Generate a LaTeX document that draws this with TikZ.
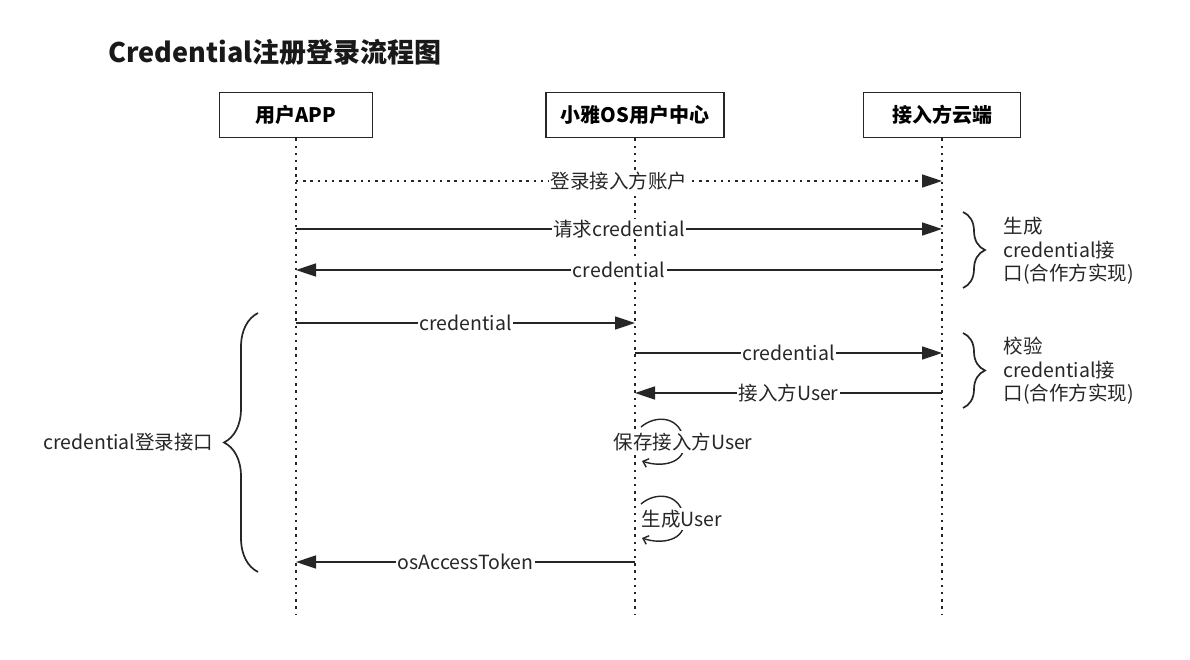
\documentclass[tikz,border=0pt]{standalone}
\usepackage{fontspec}
\setmainfont{Noto Sans CJK SC}
\usepackage{tikz}
\usetikzlibrary{arrows.meta, decorations.pathreplacing}

\begin{document}
\begin{tikzpicture}[
    x=1pt, y=-1pt,
    actor/.style={draw=black!85, line width=1.8pt, minimum height=45pt, inner sep=0pt, font=\bfseries\fontsize{20}{22}\selectfont},
    lifeline/.style={draw=black!85, line width=2.4pt, dash pattern=on 2.4pt off 4.8pt},
    msg/.style={draw=black!85, line width=1.7pt, -{Triangle[length=20pt, width=13pt]}},
    dotmsg/.style={msg, dash pattern=on 2.4pt off 4.8pt},
    lbl/.style={fill=white, inner sep=1.5pt, text=black!85, font=\fontsize{19.5}{22}\selectfont},
    selfmsg/.style={draw=black!85, line width=1.4pt, -{Straight Barb[length=5pt, width=9pt]}},
    bracket/.style={draw=black!85, line width=1.7pt, decorate, decoration={brace, amplitude=#1}},
    note/.style={text=black!85, align=left, font=\fontsize{19.5}{23.5}\selectfont},
]

% background / page size
\fill[white] (0,0) rectangle (1190,660);
\useasboundingbox (0,0) rectangle (1190,660);

% === TITLE ===
\node[font=\bfseries\fontsize{27}{31}\selectfont, anchor=west, text=black!90] (title) at (105,52) {Credential注册登录流程图};

% === PARTICIPANTS ===
\node[actor, minimum width=153pt] (app) at (296,115) {用户APP};
\node[actor, minimum width=178pt] (os) at (635,115) {小雅OS用户中心};
\node[actor, minimum width=157pt] (cloud) at (942,115) {接入方云端};

% Lifelines
\foreach \p in {app, os, cloud} {
    \coordinate (\p_end) at (\p |- 0,614);
    \draw[lifeline] (\p.south) -- (\p_end);
}

% Message anchors on the lifelines
\foreach \nm/\yy in {login/181, req/229, cred/270, send/323, check/353, user/393, token/562} {
    \coordinate (app_\nm) at (app |- 0,\yy);
    \coordinate (os_\nm) at (os |- 0,\yy);
    \coordinate (cloud_\nm) at (cloud |- 0,\yy);
}

% === MESSAGES ===
\draw[dotmsg] (app_login) -- node[lbl] {登录接入方账户} (cloud_login);
\draw[msg] (app_req) -- node[lbl] {请求credential} (cloud_req);
\draw[msg] (cloud_cred) -- node[lbl] {credential} (app_cred);
\draw[msg] (app_send) -- node[lbl] {credential} (os_send);
\draw[msg] (os_check) -- node[lbl] {credential} (cloud_check);
\draw[msg] (cloud_user) -- node[lbl] {接入方User} (os_user);
\draw[msg] (os_token) -- node[lbl] {osAccessToken} (app_token);

% Self messages
\coordinate (save_a) at (641,427);
\coordinate (save_b) at (642,461);
\draw[selfmsg] (save_a) .. controls (656,414) and (682,416) .. (684,443)
    .. controls (686,463) and (662,468) .. (save_b);
\node[lbl] (save_lbl) at (683,442) {保存接入方User};

\coordinate (gen_a) at (641,504);
\coordinate (gen_b) at (642,538);
\draw[selfmsg] (gen_a) .. controls (656,491) and (682,493) .. (684,520)
    .. controls (686,540) and (662,545) .. (gen_b);
\node[lbl] (gen_lbl) at (682,519) {生成User};

% === BRACES ===
\coordinate (make_top) at (963,212);
\coordinate (make_bot) at (963,288);
\draw[bracket=22pt] (make_top) -- (make_bot);
\node[note, anchor=west] (make_note) at (1000,251) {生成\\credential接\\口(合作方实现)};

\coordinate (verify_top) at (963,333);
\coordinate (verify_bot) at (963,408);
\draw[bracket=22pt] (verify_top) -- (verify_bot);
\node[note, anchor=west] (verify_note) at (1000,371) {校验\\credential接\\口(合作方实现)};

\coordinate (login_bot) at (258,572);
\coordinate (login_top) at (258,313);
\draw[bracket=34pt] (login_bot) -- (login_top);
\node[note, anchor=east] (login_note) at (217,442) {credential登录接口};

\end{tikzpicture}
\end{document}
